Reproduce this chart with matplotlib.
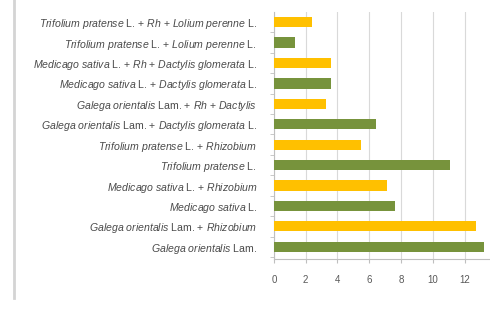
import matplotlib
matplotlib.use("Agg")
import matplotlib.pyplot as plt
from matplotlib.lines import Line2D

plt.rcParams["font.family"] = ["Liberation Sans", "DejaVu Sans"]
plt.rcParams["mathtext.fontset"] = "custom"
plt.rcParams["mathtext.rm"] = "Liberation Sans"
plt.rcParams["mathtext.it"] = "Liberation Sans:italic"

# categories listed bottom to top
labels = [
    r"$\mathit{Galega\ orientalis}$ Lam.",
    r"$\mathit{Galega\ orientalis}$ Lam. + $\mathit{Rhizobium}$",
    r"$\mathit{Medicago\ sativa}$ L.",
    r"$\mathit{Medicago\ sativa}$ L. + $\mathit{Rhizobium}$",
    r"$\mathit{Trifolium\ pratense}$ L.",
    r"$\mathit{Trifolium\ pratense}$ L. + $\mathit{Rhizobium}$",
    r"$\mathit{Galega\ orientalis}$ Lam. + $\mathit{Dactylis\ glomerata}$ L.",
    r"$\mathit{Galega\ orientalis}$ Lam. + $\mathit{Rh}$ + $\mathit{Dactylis}$",
    r"$\mathit{Medicago\ sativa}$ L. + $\mathit{Dactylis\ glomerata}$ L.",
    r"$\mathit{Medicago\ sativa}$ L. + $\mathit{Rh}$ + $\mathit{Dactylis\ glomerata}$ L.",
    r"$\mathit{Trifolium\ pratense}$ L. + $\mathit{Lolium\ perenne}$ L.",
    r"$\mathit{Trifolium\ pratense}$ L. + $\mathit{Rh}$ + $\mathit{Lolium\ perenne}$ L.",
]
values = [13.2, 12.7, 7.6, 7.1, 11.1, 5.5, 6.4, 3.3, 3.6, 3.6, 1.3, 2.4]
bar_colors = ["#77933c", "#ffc000"] * 6
x_ticks = [0, 2, 4, 6, 8, 10, 12]

fig = plt.figure(figsize=(4.9, 3.14), dpi=100)
ax = fig.add_axes([0.559, 0.175, 0.441, 0.787])

positions = list(range(len(labels)))
ax.barh(positions, values, height=0.5, color=bar_colors, zorder=3)

ax.set_xlim(0, 13.6)
ax.set_ylim(-0.6, 11.5)
ax.set_xticks(x_ticks)
ax.set_xticklabels([str(t) for t in x_ticks])
ax.set_yticks(positions)
ax.set_yticklabels(labels)
ax.set_yticks([p + 0.5 for p in positions[:-1]] + [-0.5], minor=True)

ax.tick_params(axis="y", which="major", length=0, pad=12, labelsize=7.6, labelcolor="#4a4a4a")
ax.tick_params(axis="y", which="minor", length=3, color="#bfbfbf", direction="out")
ax.tick_params(axis="x", length=3, color="#bfbfbf", pad=8.5, labelsize=7, labelcolor="#595959")

ax.grid(True, axis="x", color="#d9d9d9", linewidth=0.8, zorder=0)
for side in ["top", "right"]:
    ax.spines[side].set_visible(False)
for side in ["left", "bottom"]:
    ax.spines[side].set_color("#bfbfbf")
    ax.spines[side].set_linewidth(0.8)

# frame line at the left edge of the figure
fig.add_artist(Line2D([14 / 490, 14 / 490], [1.0, 1 - 298 / 314], color="#d4d4d4", linewidth=2.0))

fig.savefig("out.png", dpi=100)
